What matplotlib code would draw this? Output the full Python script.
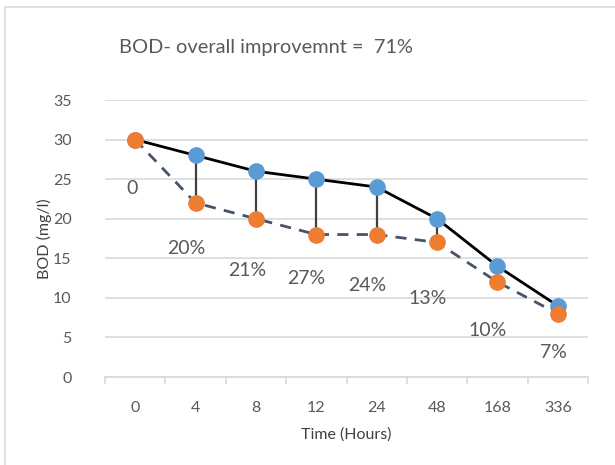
import matplotlib

matplotlib.use('Agg')

import matplotlib.pyplot as plt
from matplotlib.patches import Rectangle

# BOD readings per sampling time
hours = ['0', '4', '8', '12', '24', '48', '168', '336']
bod_control = [30, 28, 26, 25, 24, 20, 14, 9]
bod_treated = [30, 22, 20, 18, 18, 17, 12, 8]
improvement_labels = ['0', '20%', '21%', '27%', '24%', '13%', '10%', '7%']

# label placement relative to the treated point (points)
label_dx = [-2, -6.5, -6.5, -7, -6.5, -6.5, -7, -3.5]
label_dy = [-35, -33, -37, -32, -37, -40, -35, -28]

TEXT_GREY = '#595959'
GRID_GREY = '#D9D9D9'

plt.rcParams['font.family'] = ['Lato', 'DejaVu Sans']


def main():
    fig = plt.figure(figsize=(6.15, 4.65), dpi=100)

    # Light chart-area frame, running off the right and bottom edges
    fig.patches.append(Rectangle((5 / 615, -0.1), 1.2, 1 - 7 / 465 + 0.1,
                                 transform=fig.transFigure, fill=False,
                                 edgecolor=GRID_GREY, linewidth=1.2))

    ax = fig.add_axes([105 / 615, 1 - 377 / 465, (588 - 105) / 615, (377 - 100) / 465])
    x = list(range(len(hours)))

    ax.set_xlim(-0.5, len(hours) - 0.5)
    ax.set_ylim(0, 35)
    ax.set_yticks(range(0, 36, 5))
    ax.set_xticks(x)
    ax.set_xticklabels(hours)
    ax.grid(axis='y', color=GRID_GREY, linewidth=1.2)
    ax.set_axisbelow(True)
    for side in ('top', 'right', 'left'):
        ax.spines[side].set_visible(False)
    ax.spines['bottom'].set_color(GRID_GREY)
    ax.spines['bottom'].set_linewidth(1.2)
    ax.tick_params(axis='both', length=0, labelsize=11.5, labelcolor=TEXT_GREY)
    ax.tick_params(axis='x', pad=17)
    ax.tick_params(axis='y', pad=24)

    # category separators below the x axis
    ax.set_xticks([i - 0.5 for i in range(len(hours) + 1)], minor=True)
    ax.tick_params(axis='x', which='minor', length=5, color=GRID_GREY, width=1.2)

    # drop lines between the two series
    for i in x[1:]:
        ax.plot([i, i], [bod_control[i], bod_treated[i]], color='#404040',
                linewidth=1.6, zorder=2)

    ax.plot(x, bod_control, color='black', linewidth=2, marker='o',
            markersize=11, markerfacecolor='#5B9BD5', markeredgecolor='#5B9BD5', zorder=3)
    ax.plot(x, bod_treated, color='#44546A', linewidth=2, linestyle=(0, (4, 3)),
            marker='o', markersize=11, markerfacecolor='#ED7D31',
            markeredgecolor='#ED7D31', zorder=4)

    for i, label in enumerate(improvement_labels):
        ax.annotate(label, (i, bod_treated[i]), xytext=(label_dx[i], label_dy[i]),
                    textcoords='offset points', ha='center', va='center',
                    fontsize=14, color=TEXT_GREY, zorder=5)

    ax.set_xlabel('Time (Hours)', fontsize=11.5, color='#404040', labelpad=9)
    ax.set_ylabel('BOD (mg/l)', fontsize=11.5, color='#404040', labelpad=1)

    fig.text(266 / 615, 1 - 48 / 465, 'BOD- overall improvemnt =  71%',
             ha='center', va='center', fontsize=14.4, color=TEXT_GREY)

    fig.savefig('out.png', dpi=100, facecolor='white')


if __name__ == "__main__":
    main()
